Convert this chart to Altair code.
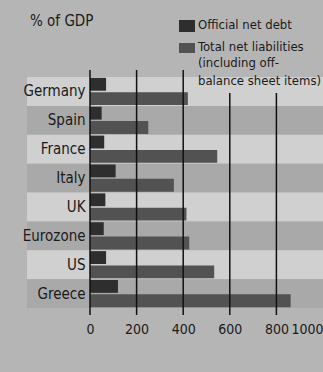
import altair as alt
import pandas as pd

countries = ["Germany", "Spain", "France", "Italy", "UK", "Eurozone", "US", "Greece"]
official = [69, 50, 61, 110, 66, 59, 69, 120]
total = [420, 250, 546, 360, 414, 426, 533, 861]
series = ["Official net debt", "Total net liabilities"]
legend_lines = ["Official net debt", "Total net liabilities", "(including off-", "balance sheet items)"]
band_shade = ["light", "dark", "light", "dark", "light", "dark", "light", "dark"]
tick_values = [0, 200, 400, 600, 800, 1000]
grid_full = [0, 200, 400]
grid_short = [600, 800]
unit_title = "% of GDP"

FONT = "DejaVu Sans Condensed, Liberation Sans Narrow, sans-serif"
W, H = 233, 231
BAR_COLORS = ["#2e2e2e", "#525252"]

rows = []
for c, o, t in zip(countries, official, total):
    rows.append({"country": c, "series": series[0], "value": o})
    rows.append({"country": c, "series": series[1], "value": t})
df = pd.DataFrame(rows)
bands = pd.DataFrame({"country": countries, "shade": band_shade})

yscale = alt.Scale(domain=countries, paddingInner=0, paddingOuter=0)
xscale = alt.Scale(domain=[0, 1000], nice=False)

band_layer = alt.Chart(bands).mark_rect().encode(
    y=alt.Y("country:N", scale=yscale, sort=countries,
            axis=alt.Axis(title=None, ticks=False, domain=False, labelFontSize=15,
                          labelFont=FONT, labelColor="#1a1a1a", labelPadding=5)),
    x=alt.value(-63),
    x2=alt.value(W),
    fill=alt.Fill("shade:N", scale=alt.Scale(domain=["light", "dark"], range=["#d0d0d0", "#a9a9a9"]), legend=None),
)

bars = alt.Chart(df).mark_bar().encode(
    y=alt.Y("country:N", scale=yscale, sort=countries),
    yOffset=alt.YOffset("series:N", sort=series, scale=alt.Scale(paddingInner=0.1, paddingOuter=0.06)),
    x=alt.X("value:Q", scale=xscale,
            axis=alt.Axis(title=None, values=tick_values, grid=False, ticks=False, domain=False,
                          format="d",
                          labelFontSize=14, labelFont=FONT, labelColor="#1a1a1a", labelPadding=14,
                          labelOverlap=False,
                          labelAlign=alt.expr("datum.value == 1000 ? 'right' : 'center'"))),
    color=alt.Color("series:N", scale=alt.Scale(domain=series, range=BAR_COLORS), legend=None),
)

rules_full = alt.Chart(pd.DataFrame({"v": grid_full})).mark_rule(color="#111111", strokeWidth=1.5).encode(
    x=alt.X("v:Q", scale=xscale), y=alt.value(-7), y2=alt.value(H + 7))
rules_short = alt.Chart(pd.DataFrame({"v": grid_short})).mark_rule(color="#111111", strokeWidth=1.5).encode(
    x=alt.X("v:Q", scale=xscale), y=alt.value(16), y2=alt.value(H + 7))

title_txt = alt.Chart(pd.DataFrame({"t": [unit_title]})).mark_text(
    align="left", baseline="middle", fontSize=15, font=FONT, color="#1a1a1a").encode(
    text="t:N", x=alt.value(-60), y=alt.value(-56))

sw_layers = []
for i, s in enumerate(series):
    sw_layers.append(
        alt.Chart(pd.DataFrame({"s": [s]})).mark_rect().encode(
            x=alt.value(89), x2=alt.value(105),
            y=alt.value([-57, -34][i]), y2=alt.value([-45, -24][i]),
            fill=alt.value(BAR_COLORS[i])))

legend_layers = []
for i, line in enumerate(legend_lines):
    ypos = [-52, -30, -14, 4][i]
    legend_layers.append(
        alt.Chart(pd.DataFrame({"t": [line]})).mark_text(
            align="left", baseline="middle", fontSize=13, font=FONT, color="#1a1a1a").encode(
            text="t:N", x=alt.value(108), y=alt.value(ypos)))

chart = alt.layer(band_layer, bars, rules_full, rules_short, title_txt, *sw_layers, *legend_layers).properties(
    width=W, height=H,
    background="#b5b5b5",
    padding={"left": 90, "top": 77, "right": 0, "bottom": 64},
    autosize=alt.AutoSizeParams(type="none"),
).configure_view(stroke=None)

chart.save("out.html", embed_options={"renderer": "svg", "actions": False})
